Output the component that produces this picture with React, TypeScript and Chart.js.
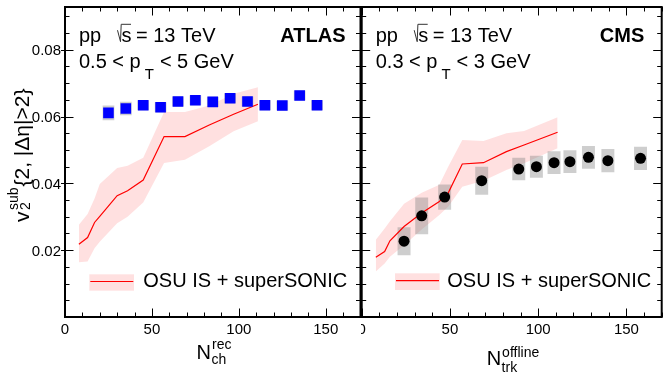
import React, { useEffect, useRef } from 'react';
import { Chart, registerables } from 'chart.js';

Chart.register(...registerables);

const FONT = '"Liberation Sans", Arial, Helvetica, sans-serif';

// ---------- ATLAS panel ----------
const atlasN = [25, 35, 45, 55, 65, 75, 85, 95, 105, 115, 125, 135, 145];
const atlasV2 = [0.0611, 0.0624, 0.0634, 0.0628, 0.0645, 0.0649, 0.0644, 0.0655, 0.0645, 0.0634, 0.0633, 0.0663, 0.0634];
const atlasSys = [0.0021, 0.0019, 0.0014, 0.0014, 0.0014, 0.0014, 0.0014, 0.0014, 0.0014, 0.0014, 0.0014, 0.0014, 0.0014];

const atlasModelN = [8, 13, 17, 20, 30, 36, 45, 57, 69, 83, 97, 111];
const atlasModelV2 = [0.0218, 0.0238, 0.0283, 0.0301, 0.0363, 0.0378, 0.041, 0.054, 0.054, 0.0575, 0.0607, 0.0637];
const atlasModelHi = [0.0276, 0.0308, 0.0355, 0.0398, 0.0446, 0.0453, 0.0477, 0.0614, 0.0614, 0.0633, 0.0668, 0.0688];
const atlasModelLo = [0.0164, 0.0166, 0.0206, 0.0225, 0.0281, 0.03, 0.0343, 0.0461, 0.0471, 0.0511, 0.0556, 0.0586];

// ---------- CMS panel ----------
const cmsN = [24, 34, 47, 68, 89, 99, 109, 118, 128.5, 139.5, 158];
const cmsV2 = [0.0227, 0.0303, 0.0359, 0.0408, 0.0443, 0.045, 0.0462, 0.0465, 0.0478, 0.0468, 0.0475];
const cmsSys = [0.0041, 0.0054, 0.0037, 0.0041, 0.0033, 0.0032, 0.0033, 0.0033, 0.0033, 0.0034, 0.0034];

const cmsModelN = [8, 13, 16, 24, 34, 44, 49, 57, 69, 82, 92, 111];
const cmsModelV2 = [0.0179, 0.0196, 0.0228, 0.0271, 0.0311, 0.0346, 0.0371, 0.0458, 0.0462, 0.0495, 0.0515, 0.0553];
const cmsModelHi = [0.0231, 0.0265, 0.0287, 0.0339, 0.0372, 0.0396, 0.045, 0.053, 0.0527, 0.055, 0.0557, 0.0598];
const cmsModelLo = [0.0136, 0.016, 0.018, 0.0215, 0.0262, 0.0305, 0.033, 0.039, 0.0408, 0.044, 0.046, 0.0505];

// ---------- axes ----------
const xMin = 0;
const xMax = 170;
const xTickValues = [0, 50, 100, 150];
const xMinorStep = 10;
const xMajorStep = 50;
const yMin = 0;
const yMax = 0.0928;
const yTickValues = [0.02, 0.04, 0.06, 0.08];
const yMinorStep = 0.005;
const yMajorEvery = 4;

const legendLabel = 'OSU IS + superSONIC';

const BAND = 'rgba(255,0,0,0.12)';
const RED = '#ff0000';
const SYS = 'rgba(125,125,125,0.38)';

type PanelCfg = {
  exp: string;
  ptLo: string;
  ptHi: string;
  n: number[];
  v2: number[];
  sys: number[];
  mN: number[];
  mV: number[];
  mHi: number[];
  mLo: number[];
  marker: 'rect' | 'circle';
  markerColor: string;
  markerRadius: number;
  sysWidth: number;
  showY: boolean;
  padding: { left: number; right: number; top: number; bottom: number };
  xTitle: { sub: string; sup: string; base: number; subBase: number; supBase: number };
  legend: { dx: number; y0: number; y1: number; lineY: number; textDx: number; textBase: number };
  expDx: number;
};

function pts(xs: number[], ys: number[]) {
  return xs.map((x, i) => ({ x, y: ys[i] }));
}

function decoPlugin(cfg: PanelCfg) {
  return {
    id: 'deco',
    afterDraw(chart: any) {
      const { ctx, chartArea: a } = chart;
      const x = chart.scales.x;
      const y = chart.scales.y;
      ctx.save();
      // ticks
      ctx.strokeStyle = '#000';
      ctx.lineWidth = 1;
      ctx.beginPath();
      for (let v = xMin; v <= xMax + 1e-9; v += xMinorStep) {
        const px = Math.round(x.getPixelForValue(v)) + 0.5;
        const L = v % xMajorStep === 0 ? 8.5 : 4.5;
        ctx.moveTo(px, a.bottom);
        ctx.lineTo(px, a.bottom - L);
        ctx.moveTo(px, a.top);
        ctx.lineTo(px, a.top + L);
      }
      for (let k = 1; k * yMinorStep < yMax; k++) {
        const py = Math.round(y.getPixelForValue(k * yMinorStep)) + 0.5;
        const major = k % yMajorEvery === 0;
        const L = major ? 8.5 : 4.5;
        ctx.moveTo(a.left - (major && cfg.showY ? 4 : 0), py);
        ctx.lineTo(a.left + L, py);
        ctx.moveTo(a.right, py);
        ctx.lineTo(a.right - L, py);
      }
      ctx.stroke();
      // frame
      ctx.lineWidth = 2;
      ctx.strokeRect(a.left, a.top, a.right - a.left, a.bottom - a.top);

      ctx.fillStyle = '#000';
      ctx.textBaseline = 'alphabetic';

      // tick labels
      ctx.font = `15px ${FONT}`;
      ctx.textAlign = 'center';
      for (const v of xTickValues) {
        ctx.fillText(String(v), x.getPixelForValue(v), a.bottom + 16.5);
      }
      if (cfg.showY) {
        ctx.textAlign = 'right';
        for (const v of yTickValues) {
          ctx.fillText(v.toFixed(2), a.left - 4, y.getPixelForValue(v) + 5.4);
        }
      }
      ctx.textAlign = 'left';

      // header text
      const x0 = a.left + 14;
      const b1 = 41.7;
      const b2 = 68.3;
      ctx.font = `20px ${FONT}`;
      ctx.fillText('pp', x0, b1);
      ctx.lineWidth = 1;
      ctx.strokeStyle = '#333';
      ctx.beginPath();
      ctx.moveTo(x0 + 38.5, b1 - 11.5);
      ctx.lineTo(x0 + 41.5, b1);
      ctx.lineTo(x0 + 42.2, b1 - 17.4);
      ctx.lineTo(x0 + 52, b1 - 17.4);
      ctx.stroke();
      ctx.fillText('s', x0 + 42.5, b1);
      ctx.fillText('= 13 TeV', x0 + 57, b1);
      const s1 = `${cfg.ptLo} < p`;
      ctx.fillText(s1, x0, b2);
      const w1 = ctx.measureText(s1).width;
      ctx.font = `15px ${FONT}`;
      ctx.fillText('T', x0 + w1 + 4, b2 + 10.7);
      const wT = ctx.measureText('T').width;
      ctx.font = `20px ${FONT}`;
      ctx.fillText(`< ${cfg.ptHi} GeV`, x0 + w1 + 4 + wT + 6, b2);
      // experiment label
      ctx.font = `bold 20px ${FONT}`;
      ctx.textAlign = 'right';
      ctx.fillText(cfg.exp, a.right - cfg.expDx, b1);
      ctx.textAlign = 'left';

      // legend
      const lg = cfg.legend;
      ctx.fillStyle = BAND;
      ctx.fillRect(a.left + lg.dx, lg.y0, 44.7, lg.y1 - lg.y0);
      ctx.strokeStyle = RED;
      ctx.lineWidth = 1.2;
      ctx.beginPath();
      ctx.moveTo(a.left + lg.dx + 1, lg.lineY);
      ctx.lineTo(a.left + lg.dx + 44, lg.lineY);
      ctx.stroke();
      ctx.fillStyle = '#000';
      ctx.font = `20px ${FONT}`;
      ctx.fillText(legendLabel, a.left + lg.textDx, lg.textBase);

      // x title
      const xt = cfg.xTitle;
      ctx.font = `20px ${FONT}`;
      const wN = ctx.measureText('N').width;
      ctx.font = `14px ${FONT}`;
      const wSub = ctx.measureText(xt.sub).width;
      const wSup = ctx.measureText(xt.sup).width;
      const total = wN + 0.5 + Math.max(wSub, wSup);
      const cx = (a.left + a.right) / 2 + 1;
      const nx = cx - total / 2;
      ctx.font = `20px ${FONT}`;
      ctx.fillText('N', nx, xt.base);
      ctx.font = `14px ${FONT}`;
      ctx.fillText(xt.sub, nx + wN + 0.5, xt.subBase);
      ctx.fillText(xt.sup, nx + wN + 1, xt.supBase);

      // y title
      if (cfg.showY) {
        ctx.translate(28.5, 222);
        ctx.rotate(-Math.PI / 2);
        ctx.font = `21px ${FONT}`;
        ctx.fillText('v', 0, 0);
        ctx.font = `14px ${FONT}`;
        ctx.fillText('2', 12, 1);
        ctx.fillText('sub', 12, -10.5);
        ctx.font = `21px ${FONT}`;
        ctx.fillText('{2, |\u0394\u03B7|>2}', 35.5, 0);
      }
      ctx.restore();
    },
  };
}

function makeConfig(cfg: PanelCfg): any {
  return {
    type: 'line',
    data: {
      datasets: [
        {
          type: 'line',
          data: pts(cfg.mN, cfg.mHi),
          borderWidth: 0,
          pointRadius: 0,
          fill: false,
          tension: 0,
          order: 6,
        },
        {
          type: 'line',
          data: pts(cfg.mN, cfg.mLo),
          borderWidth: 0,
          pointRadius: 0,
          fill: '-1',
          backgroundColor: BAND,
          tension: 0,
          order: 5,
        },
        {
          type: 'bar',
          data: cfg.n.map((x, i) => ({ x, y: [cfg.v2[i] - cfg.sys[i], cfg.v2[i] + cfg.sys[i]] })),
          backgroundColor: SYS,
          borderWidth: 0,
          barThickness: cfg.sysWidth,
          order: 3,
        },
        {
          type: 'line',
          data: pts(cfg.mN, cfg.mV),
          borderColor: RED,
          borderWidth: 1.2,
          pointRadius: 0,
          fill: false,
          tension: 0,
          order: 2,
        },
        {
          type: 'scatter',
          data: pts(cfg.n, cfg.v2),
          pointStyle: cfg.marker,
          pointRadius: cfg.markerRadius,
          backgroundColor: cfg.markerColor,
          borderWidth: 0,
          showLine: false,
          order: 1,
        },
      ],
    },
    options: {
      responsive: false,
      animation: false,
      events: [],
      layout: { padding: cfg.padding, autoPadding: false },
      plugins: { legend: { display: false }, tooltip: { enabled: false } },
      scales: {
        x: { type: 'linear', min: xMin, max: xMax, offset: false, display: false },
        y: { type: 'linear', min: yMin, max: yMax, display: false },
      },
    },
    plugins: [decoPlugin(cfg)],
  };
}

const atlasCfg: PanelCfg = {
  exp: 'ATLAS',
  ptLo: '0.5',
  ptHi: '5',
  n: atlasN,
  v2: atlasV2,
  sys: atlasSys,
  mN: atlasModelN,
  mV: atlasModelV2,
  mHi: atlasModelHi,
  mLo: atlasModelLo,
  marker: 'rect',
  markerColor: '#0000ff',
  markerRadius: 7.5,
  sysWidth: 11,
  showY: true,
  padding: { left: 65, right: 0.5, top: 7, bottom: 70 },
  xTitle: { sub: 'ch', sup: 'rec', base: 359, subBase: 364.3, supBase: 349 },
  legend: { dx: 24.3, y0: 274.3, y1: 290.7, lineY: 281.5, textDx: 78.3, textBase: 287.3 },
  expDx: 15,
};

const cmsCfg: PanelCfg = {
  exp: 'CMS',
  ptLo: '0.3',
  ptHi: '3',
  n: cmsN,
  v2: cmsV2,
  sys: cmsSys,
  mN: cmsModelN,
  mV: cmsModelV2,
  mHi: cmsModelHi,
  mLo: cmsModelLo,
  marker: 'circle',
  markerColor: '#000000',
  markerRadius: 5.5,
  sysWidth: 12.3,
  showY: false,
  padding: { left: 0.7, right: 2.3, top: 7, bottom: 70 },
  xTitle: { sub: 'trk', sup: 'offline', base: 365, subBase: 371.7, supBase: 356.7 },
  legend: { dx: 33.3, y0: 273.3, y1: 290, lineY: 280.7, textDx: 85.6, textBase: 287.3 },
  expDx: 17.4,
};

function Panel({ cfg, left, width }: { cfg: PanelCfg; left: number; width: number }) {
  const ref = useRef<HTMLCanvasElement | null>(null);
  useEffect(() => {
    if (!ref.current) return;
    const chart = new Chart(ref.current, makeConfig(cfg));
    return () => chart.destroy();
  }, [cfg]);
  return (
    <canvas
      ref={ref}
      width={width}
      height={387}
      style={{ position: 'absolute', left, top: 0, width, height: 387, display: 'block' }}
    />
  );
}

export default function App() {
  return (
    <div
      style={{
        position: 'fixed',
        left: 0,
        top: 0,
        width: 664,
        height: 387,
        background: '#fff',
        overflow: 'hidden',
      }}
    >
      <Panel cfg={atlasCfg} left={0} width={361} />
      <Panel cfg={cmsCfg} left={361} width={303} />
    </div>
  );
}
